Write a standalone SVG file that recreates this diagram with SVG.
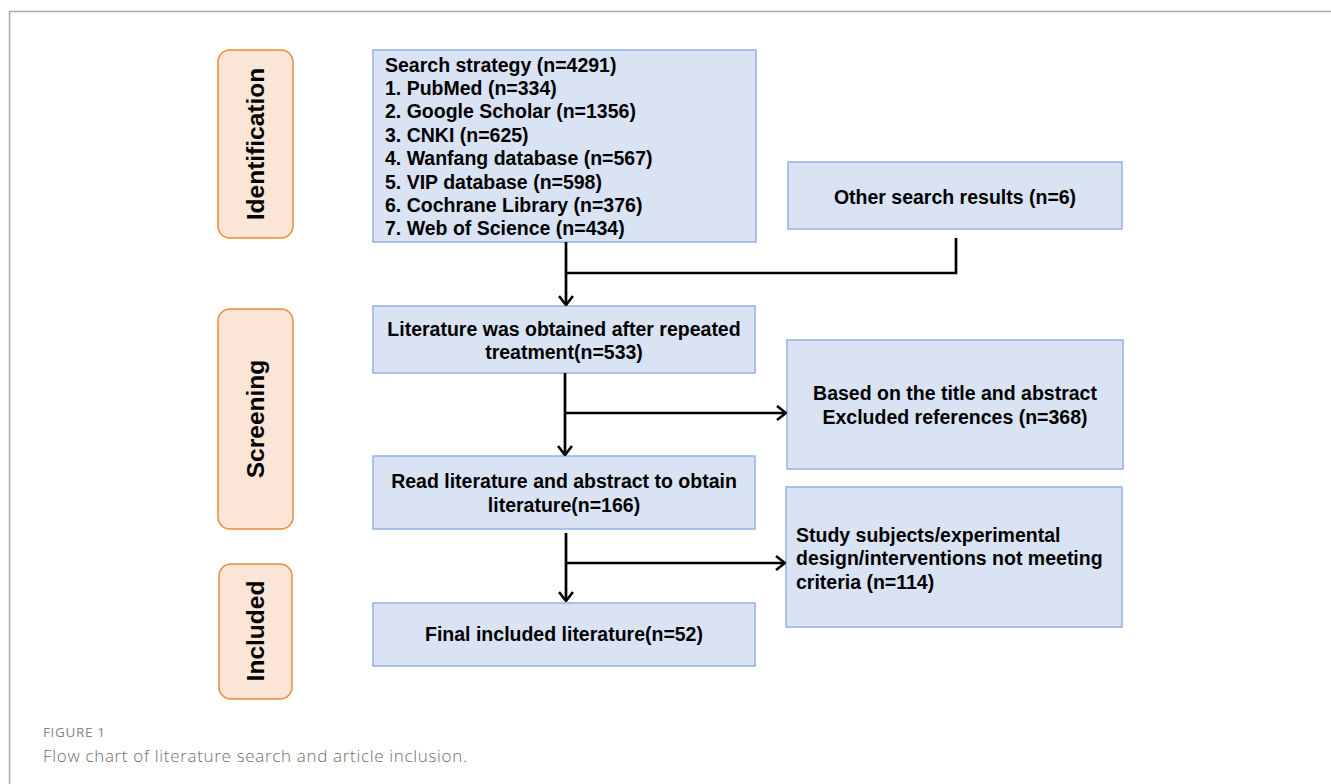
<svg xmlns="http://www.w3.org/2000/svg" width="1331" height="784" viewBox="0 0 1331 784">
<defs>
<style>
.box{fill:#dae3f3;stroke:#94b1e3;stroke-width:1.5}
.lab{fill:#fbe5d6;stroke:#f0893a;stroke-width:1.5}
.t{font-family:"Liberation Sans",Arial,sans-serif;font-weight:bold;font-size:19.5px;fill:#000}
.c{text-anchor:middle}
.lt{font-family:"Liberation Sans",Arial,sans-serif;font-weight:bold;font-size:24.5px;fill:#000;text-anchor:middle}
.conn{fill:none;stroke:#000;stroke-width:2.7}
.frame{fill:none;stroke:#a8a8a8;stroke-width:1.5}
</style>
<marker id="arr" viewBox="0 0 11 16" refX="10" refY="8" markerWidth="11" markerHeight="16" markerUnits="userSpaceOnUse" orient="auto">
<path d="M1,1 L10,8 L1,15" fill="none" stroke="#000" stroke-width="2.6"/>
</marker>
</defs>
<rect width="1331" height="784" fill="#fff"/>
<path class="frame" d="M9.5,784 V11.5 H1331"/>

<g id="label-identification">
<rect class="lab" x="218" y="50" width="75" height="188" rx="12"/>
<text class="lt" x="255" y="153" transform="rotate(-90 255 144)">Identification</text>
</g>
<g id="label-screening">
<rect class="lab" x="218" y="309" width="75" height="220" rx="12"/>
<text class="lt" x="255" y="428" transform="rotate(-90 255 419)">Screening</text>
</g>
<g id="label-included">
<rect class="lab" x="219" y="564" width="73" height="135" rx="12"/>
<text class="lt" x="255" y="640" transform="rotate(-90 255 631)">Included</text>
</g>

<g id="search">
<rect class="box" x="373" y="50" width="383" height="192"/>
<text class="t" x="385" y="71.5">Search strategy (n=4291)</text>
<text class="t" x="385" y="94.9">1. PubMed (n=334)</text>
<text class="t" x="385" y="118.3">2. Google Scholar (n=1356)</text>
<text class="t" x="385" y="141.7">3. CNKI (n=625)</text>
<text class="t" x="385" y="165.1">4. Wanfang database (n=567)</text>
<text class="t" x="385" y="188.5">5. VIP database (n=598)</text>
<text class="t" x="385" y="211.9">6. Cochrane Library (n=376)</text>
<text class="t" x="385" y="235.3">7. Web of Science (n=434)</text>
</g>
<g id="other">
<rect class="box" x="788" y="162" width="334" height="67"/>
<text class="t c" x="955" y="204">Other search results (n=6)</text>
</g>
<g id="after-dup">
<rect class="box" x="373" y="306" width="382" height="67"/>
<text class="t c" x="564" y="336">Literature was obtained after repeated</text>
<text class="t c" x="564" y="359">treatment(n=533)</text>
</g>
<g id="excluded1">
<rect class="box" x="787" y="340" width="336" height="129"/>
<text class="t c" x="955" y="400">Based on the title and abstract</text>
<text class="t c" x="955" y="424">Excluded references (n=368)</text>
</g>
<g id="read">
<rect class="box" x="373" y="456" width="382" height="73"/>
<text class="t c" x="564" y="488">Read literature and abstract to obtain</text>
<text class="t c" x="564" y="512">literature(n=166)</text>
</g>
<g id="excluded2">
<rect class="box" x="786" y="487" width="336" height="140"/>
<text class="t" x="796" y="542">Study subjects/experimental</text>
<text class="t" x="796" y="565">design/interventions not meeting</text>
<text class="t" x="796" y="589">criteria (n=114)</text>
</g>
<g id="final">
<rect class="box" x="373" y="603" width="382" height="63"/>
<text class="t c" x="564" y="641">Final included literature(n=52)</text>
</g>

<g id="connectors">
<path class="conn" d="M566,242 V305" marker-end="url(#arr)"/>
<path class="conn" d="M956,238 V273 H566"/>
<path class="conn" d="M565,373 V455" marker-end="url(#arr)"/>
<path class="conn" d="M565,413 H786" marker-end="url(#arr)"/>
<path class="conn" d="M566,533 V601" marker-end="url(#arr)"/>
<path class="conn" d="M566,563 H785" marker-end="url(#arr)"/>
</g>

<text x="43" y="737" font-family="'Open Sans','Noto Sans',sans-serif" font-size="13.5" fill="#858585" textLength="62">FIGURE 1</text>
<text x="43" y="762" font-family="'Open Sans','Noto Sans',sans-serif" font-weight="300" font-size="17" fill="#6e6e6e" textLength="424">Flow chart of literature search and article inclusion.</text>
</svg>
